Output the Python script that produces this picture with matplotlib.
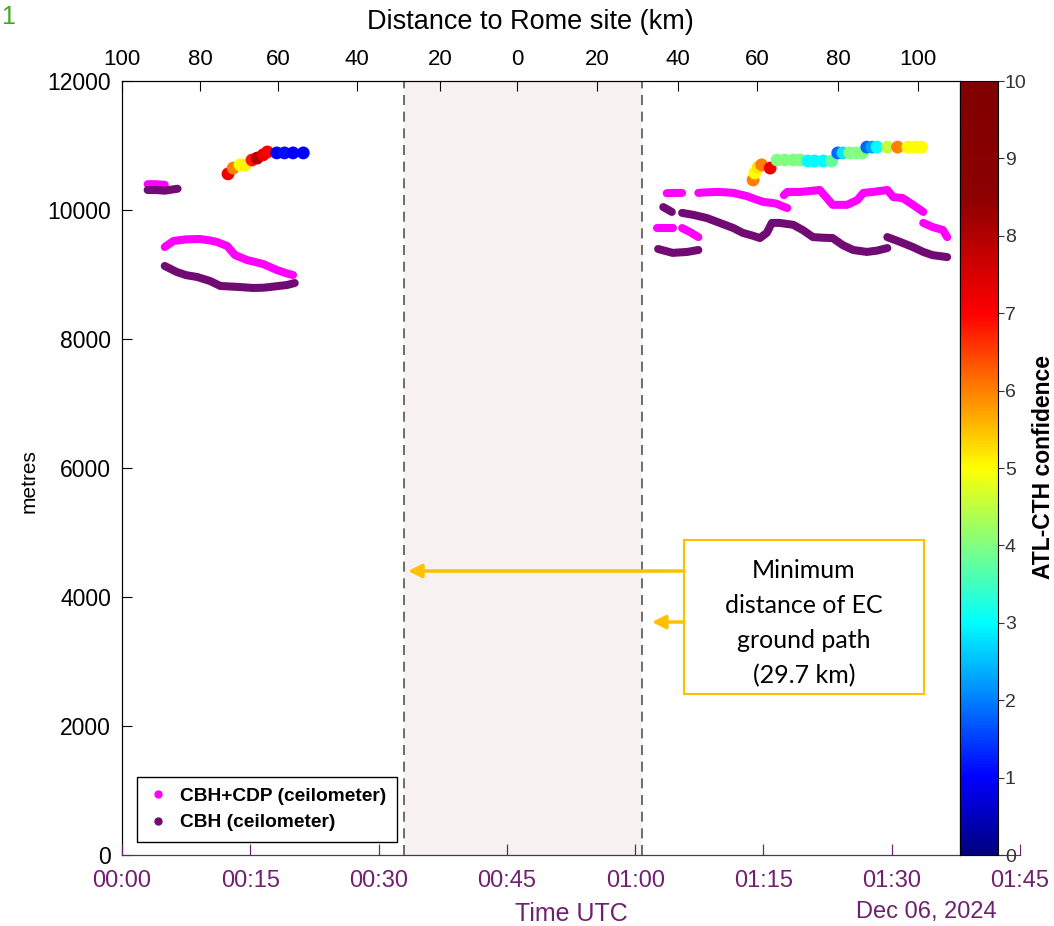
import matplotlib
matplotlib.use('Agg')
import matplotlib.pyplot as plt
from matplotlib.colors import LinearSegmentedColormap
from matplotlib.lines import Line2D
from matplotlib.patches import Rectangle

plt.rcParams['font.family'] = ['Liberation Sans', 'DejaVu Sans']

# time in minutes after 00:00 UTC, heights in metres

# CBH+CDP (ceilometer), one (time, height) pair per continuous piece
cdp_segments = [
    ([3.0, 4.0, 5.0], [10400, 10400, 10390]),
    ([5.0, 6.0, 7.5, 9.1, 10.2, 11.1, 12.3, 13.2, 14.6, 16.5, 18.1, 19.2, 20.0],
     [9426, 9519, 9545, 9550, 9530, 9504, 9442, 9302, 9225, 9163, 9070, 9020, 8992]),
    ([62.6, 63.5, 64.4], [9720, 9720, 9720]),
    ([63.7, 64.5, 65.5], [10260, 10265, 10265]),
    ([65.5, 66.4, 67.4], [9720, 9660, 9580]),
    ([67.4, 68.5, 69.6, 70.5, 71.5, 72.3, 73.1, 74.0, 75.0, 76.0, 76.6, 77.2, 77.8],
     [10265, 10275, 10280, 10275, 10265, 10240, 10215, 10170, 10125, 10110, 10095, 10060, 10030]),
    ([77.4, 77.8, 79.3, 81.6, 82.4, 83.1, 84.8, 86.0, 86.7, 87.8, 89.5, 90.2, 91.3, 92.5, 93.7],
     [10230, 10280, 10280, 10310, 10190, 10080, 10080, 10155, 10265, 10280, 10310, 10200, 10185, 10080, 9970]),
    ([93.7, 94.8, 96.0, 96.5], [9800, 9735, 9690, 9580]),
]

# CBH (ceilometer)
cbh_segments = [
    ([3.0, 4.0, 5.0, 6.0, 6.5], [10310, 10310, 10300, 10320, 10330]),
    ([5.0, 6.4, 7.5, 8.8, 10.3, 11.5, 12.5, 13.8, 15.3, 16.5, 17.3, 18.5, 19.3, 20.2],
     [9132, 9039, 8990, 8961, 8899, 8822, 8815, 8806, 8791, 8795, 8806, 8825, 8837, 8868]),
    ([63.3, 64.3], [10045, 9970]),
    ([62.7, 64.4, 66.1, 67.4], [9395, 9335, 9350, 9380]),
    ([65.5, 66.8, 68.4, 69.9, 71.5, 72.6, 73.8, 74.6, 75.4, 76.0, 76.9, 78.5, 79.6, 80.8,
      82.0, 83.1, 84.3, 85.5, 87.1, 88.3, 89.5],
     [9955, 9925, 9875, 9800, 9720, 9645, 9600, 9565, 9645, 9800, 9800, 9770, 9690, 9580,
      9570, 9565, 9455, 9380, 9350, 9370, 9410]),
    ([89.5, 91.0, 92.5, 93.7, 94.8, 96.5], [9580, 9505, 9425, 9350, 9300, 9270]),
]

# ATL-CTH with confidence
atl_t = [12.4, 13.0, 13.8, 14.4, 15.2, 15.8, 16.5, 17.0, 18.1, 19.0, 20.0, 21.2,
         73.8, 74.0, 74.4, 74.8, 75.8, 76.6, 77.5, 78.5, 79.3, 80.2, 81.0, 82.0, 83.0,
         83.7, 84.3, 85.1, 85.9, 86.6, 87.1, 87.7, 88.3, 89.5, 90.7, 91.9, 92.7, 93.5]
atl_h = [10560, 10650, 10700, 10700, 10775, 10805, 10855, 10900, 10885, 10885, 10885, 10885,
         10465, 10575, 10665, 10700, 10650, 10775, 10775, 10775, 10775, 10760, 10760, 10760, 10760,
         10885, 10885, 10885, 10885, 10885, 10975, 10975, 10975, 10975, 10975, 10975, 10975, 10975]
atl_conf = [7.2, 6.0, 5.0, 5.1, 6.8, 8.0, 7.3, 7.0, 1.0, 1.1, 1.0, 1.0,
            6.0, 5.0, 5.2, 6.0, 7.2, 4.0, 4.0, 4.0, 4.0, 3.0, 3.0, 3.0, 3.8,
            1.8, 2.8, 4.0, 4.0, 4.0, 1.8, 2.3, 3.0, 4.5, 6.0, 5.0, 5.0, 5.0]

gap_start, gap_end = 33.0, 60.8

time_ticks = [0, 15, 30, 45, 60, 75, 90, 105]
time_labels = ['00:00', '00:15', '00:30', '00:45', '01:00', '01:15', '01:30', '01:45']

dist_pos = [0, 9.12, 18.24, 27.48, 37.18, 46.19, 55.54, 65.01, 74.25, 83.72, 93.08]
dist_labels = ['100', '80', '60', '40', '20', '0', '20', '40', '60', '80', '100']

magenta = '#ff00ff'
purple = '#720a74'
tcol = '#702070'
gold = '#ffc000'

cmap = LinearSegmentedColormap.from_list('conf', [
    (0.0, (0, 0, 0.5)), (0.1, (0, 0, 1)), (0.3, (0, 1, 1)), (0.4, (0.5, 1, 0.5)),
    (0.5, (1, 1, 0)), (0.7, (1, 0, 0)), (0.85, (0.55, 0, 0)), (1.0, (0.5, 0, 0))])

W, H = 1054, 926
fig = plt.figure(figsize=(W / 100, H / 100), dpi=100)
L, B, R, T = 122 / W, 1 - 855 / H, 960 / W, 1 - 81 / H
ax = fig.add_axes([L, B, R - L, T - B])

ax.axvspan(gap_start, gap_end, color='#f7f1f1', lw=0, zorder=0)
for x in (gap_start, gap_end):
    ax.axvline(x, color='#555555', lw=1.2, ls=(0, (6, 4)), zorder=1)

for t, h in cdp_segments:
    ax.plot(t, h, color=magenta, lw=5.8, solid_capstyle='round', solid_joinstyle='round', zorder=2)
for t, h in cbh_segments:
    ax.plot(t, h, color=purple, lw=5.8, solid_capstyle='round', solid_joinstyle='round', zorder=2)

sc = ax.scatter(atl_t, atl_h, c=atl_conf, cmap=cmap, vmin=0, vmax=10, s=85, lw=0, zorder=3)

ax.set_xlim(0, 98.0)
ax.set_ylim(0, 12000)
ax.set_yticks(range(0, 12001, 2000))
ax.set_xticks(time_ticks[:-1])
ax.tick_params(axis='y', direction='in', length=7, labelsize=16.5, pad=8)
ax.tick_params(axis='x', direction='in', length=7, top=True, bottom=False, labelbottom=False)
ax.spines['bottom'].set_visible(False)
ax.set_ylabel('metres', fontsize=15)
ax.yaxis.set_label_coords(-0.100, 0.483)

# top distance axis
axt = ax.twiny()
axt.set_xlim(ax.get_xlim())
axt.set_xticks(dist_pos)
axt.set_xticklabels(dist_labels)
axt.tick_params(axis='x', direction='in', length=7, labelsize=16, pad=8)
axt.set_xlabel('Distance to Rome site (km)', fontsize=19.5)
axt.xaxis.set_label_coords(0.487, 1.067)

# annotation
ax.add_patch(Rectangle((65.7, 2496), 28.06, 2388, fill=True, facecolor='white',
                       edgecolor=gold, lw=1.5, zorder=4))
ax.text(79.75, 3597, 'Minimum\ndistance of EC\nground path\n(29.7 km)', ha='center', va='center',
        fontsize=18, family=['Lato', 'DejaVu Sans'], linespacing=1.62, zorder=5)
arrow = dict(arrowstyle='-|>', color=gold, lw=2.5, mutation_scale=20, shrinkA=0, shrinkB=0)
ax.annotate('', xy=(33.45, 4403), xytext=(65.7, 4403), arrowprops=arrow, zorder=5)
ax.annotate('', xy=(61.97, 3612), xytext=(65.7, 3612), arrowprops=arrow, zorder=5)

handles = [Line2D([], [], ls='', marker='.', ms=10, color=magenta),
           Line2D([], [], ls='', marker='.', ms=10, color=purple)]
ax.legend(handles, ['CBH+CDP (ceilometer)', 'CBH (ceilometer)'], loc='lower left',
          bbox_to_anchor=(0.018, 0.017), borderaxespad=0, prop={'weight': 'bold', 'size': 13.8},
          fancybox=False, edgecolor='black', framealpha=1, handlelength=1.1,
          handletextpad=0.6, labelspacing=0.46, borderpad=0.55)

# time axis (extends under the colour bar)
axtime = fig.add_axes([L, B, 1020 / W - L, 1e-4])
axtime.patch.set_visible(False)
for s in ('left', 'right', 'top'):
    axtime.spines[s].set_visible(False)
axtime.spines['bottom'].set_color(tcol)
axtime.set_xlim(0, 105)
axtime.set_xticks(time_ticks)
axtime.set_xticklabels(time_labels)
axtime.set_yticks([])
axtime.tick_params(axis='x', direction='in', length=8, color=tcol, labelcolor=tcol,
                   labelsize=17, pad=11)
axtime.set_xlabel('Time UTC', color=tcol, fontsize=18, labelpad=7)
fig.text(926 / W, 1 - 912 / H, 'Dec 06, 2024', color=tcol, fontsize=17, ha='center', va='center')

# colour bar
cax = fig.add_axes([960 / W, B, 38 / W, T - B])
cb = fig.colorbar(sc, cax=cax, ticks=range(11))
cb.outline.set_linewidth(0.8)
cax.tick_params(labelsize=14, length=4, pad=1, colors='#333333')
fig.text(1043 / W, 1 - 467 / H, 'ATL-CTH confidence', rotation=90, fontsize=16.5,
         fontweight='bold', ha='center', va='center')

fig.text(0.001, 0.995, '1', color='#3cae1e', fontsize=18, ha='left', va='top')

fig.savefig('out.png', dpi=100)
